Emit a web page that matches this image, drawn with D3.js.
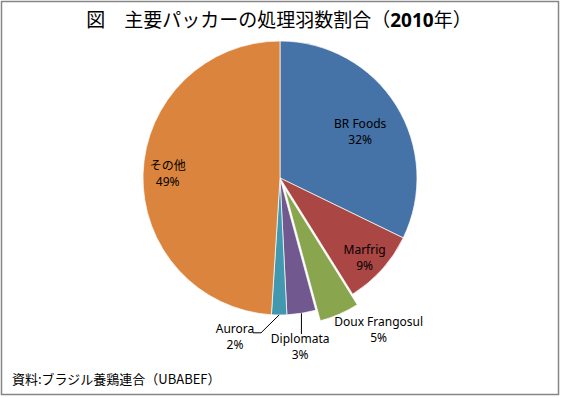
<!DOCTYPE html>
<html>
<head>
<meta charset="utf-8">
<script src="https://cdn.jsdelivr.net/npm/d3@7"></script>
<style>
  body { margin: 0; background: #fff; }
  text { font-family: "Noto Sans", "Noto Sans CJK JP", sans-serif; }
</style>
</head>
<body>
<div id="vis"></div>
<script>
var companies = ['BR Foods', 'Marfrig', 'Doux Frangosul', 'Diplomata', 'Aurora', 'その他'];
var shares = [32.2, 8.9, 4.7, 3.4, 1.8, 49.0];
var colors = ['#4572A7', '#AA4643', '#89A54E', '#71588F', '#4198AF', '#DB843D'];
var exploded = ['Doux Frangosul'];

var width = 561, height = 398;
var cx = 280, cy = 178, radius = 137;

var data = companies.map(function(c, i) {
    return { name: c, value: shares[i], color: colors[i] };
});

var svg = d3.select('#vis')
    .append('svg')
    .attr('width', width)
    .attr('height', height);

svg.append('rect')
    .attr('x', 1.5).attr('y', 1.5)
    .attr('width', 557).attr('height', 393)
    .attr('fill', '#fff')
    .attr('stroke', '#868686')
    .attr('stroke-width', 1.5);

// title, the year in bold
var title = svg.append('text')
    .attr('x', 279).attr('y', 27)
    .attr('text-anchor', 'middle')
    .style('font-family', '"Noto Sans CJK JP", sans-serif')
    .style('font-size', '19px');
title.append('tspan').text('図　主要パッカーの処理羽数割合（');
title.append('tspan').style('font-weight', 'bold').style('font-family', '"Noto Sans", sans-serif').text('2010');
title.append('tspan').text('年）');

var pie = d3.pie().sort(null).value(function(d) { return d.value; });
var arc = d3.arc().innerRadius(0).outerRadius(radius);

var g = svg.append('g')
    .attr('transform', 'translate(' + cx + ',' + cy + ')');

var arcs = pie(data);

var offset = function(d) {
    if (exploded.indexOf(d.data.name) < 0) return [0, 0];
    var a = (d.startAngle + d.endAngle) / 2;
    return [Math.sin(a) * 11.5, -Math.cos(a) * 11.5];
};

g.selectAll('path')
    .data(arcs)
    .enter().append('path')
    .attr('d', arc)
    .attr('fill', function(d) { return d.data.color; })
    .attr('stroke', '#fff')
    .attr('stroke-width', 0.7)
    .attr('transform', function(d) { return 'translate(' + offset(d) + ')'; });

// label anchor: distance along the slice's middle angle, plus a small nudge
var labelPos = {
    'BR Foods':       { r: 0.69, dx: 0,   dy: 0 },
    'Marfrig':        { r: 0.83, dx: 0,   dy: 0 },
    'Doux Frangosul': { r: 1.18, dx: 34,  dy: 0 },
    'Diplomata':      { r: 1.22, dx: -6,  dy: 0 },
    'Aurora':         { r: 1.13, dx: -44, dy: 0 },
    'その他':          { r: 0.82, dx: 0,   dy: -4 }
};

var labelXY = function(d) {
    var a = (d.startAngle + d.endAngle) / 2;
    var p = labelPos[d.data.name];
    return [Math.sin(a) * p.r * radius + p.dx, -Math.cos(a) * p.r * radius + p.dy];
};

// leader lines for the two thin slices
var leader = function(d) {
    var a = (d.startAngle + d.endAngle) / 2;
    var edge = [Math.sin(a) * radius, -Math.cos(a) * radius];
    var xy = labelXY(d);
    if (d.data.name === 'Diplomata') {
        return [edge, [edge[0], xy[1] - 9]];
    }
    if (d.data.name === 'Aurora') {
        return [edge, [xy[0] + 26, xy[1]], [xy[0] + 18, xy[1]]];
    }
    return null;
};

g.selectAll('polyline')
    .data(arcs.filter(function(d) { return leader(d); }))
    .enter().append('polyline')
    .attr('points', function(d) { return leader(d).join(' '); })
    .attr('fill', 'none')
    .attr('stroke', '#000')
    .attr('stroke-width', 1);

var labels = g.selectAll('.lbl')
    .data(arcs)
    .enter().append('text')
    .attr('class', 'lbl')
    .attr('text-anchor', 'middle')
    .style('font-size', '12px')
    .attr('transform', function(d) { return 'translate(' + labelXY(d) + ')'; });

labels.append('tspan')
    .attr('x', 0).attr('y', 0)
    .text(function(d) { return d.data.name; });
labels.append('tspan')
    .attr('x', 0).attr('y', 16)
    .text(function(d) { return Math.round(d.data.value) + '%'; });

svg.append('text')
    .attr('x', 12).attr('y', 384)
    .style('font-family', '"Noto Sans CJK JP", sans-serif')
    .style('font-size', '13px')
    .text('資料:ブラジル養鶏連合（UBABEF）');
</script>
</body>
</html>
